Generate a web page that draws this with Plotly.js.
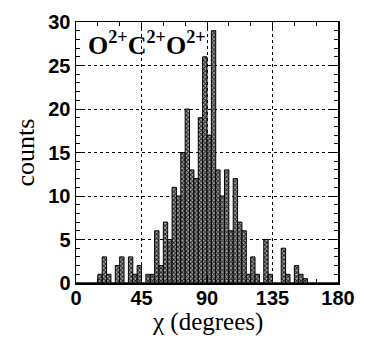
<!DOCTYPE html>
<html>
<head>
<meta charset="utf-8">
<script src="https://cdn.plot.ly/plotly-3.0.1.min.js"></script>
<style>
html,body{margin:0;padding:0;background:#fff;}
#chart{width:365px;height:343px;}
</style>
</head>
<body>
<div id="chart"></div>
<script>
// bin width in degrees
const binWidth = 3;
// counts per 3-degree bin, from 0 to 180 degrees (60 bins)
const counts = [
  0, 0, 0, 0, 0, 1, 3, 1, 0, 2,
  3, 0, 3, 1, 2, 0, 1, 1, 6, 2,
  7, 5, 11, 10, 15, 20, 13, 12, 19, 26,
  17, 29, 13, 10, 13, 6, 12, 7, 6, 1,
  3, 1, 0, 5, 1, 0, 0, 4, 1, 0,
  2, 1, 0.5, 0, 0, 0, 0, 0, 0, 0
];
const xTicks = [0, 45, 90, 135, 180];
const yTicks = [0, 5, 10, 15, 20, 25, 30];
const xTitle = 'χ (degrees)';
const yTitle = 'counts';
const label = '<b>O<sup>2+</sup>C<sup>2+</sup>O<sup>2+</sup></b>';
const binCenters = counts.map((_, i) => i * binWidth + binWidth / 2);

const trace = {
  type: 'bar',
  x: binCenters,
  y: counts,
  width: binWidth,
  marker: {
    color: '#a0a0a0',
    line: {color: '#000', width: 1},
    pattern: {shape: 'x', fgcolor: '#1a1a1a', bgcolor: '#a8a8a8', size: 3, solidity: 0.5}
  },
  hoverinfo: 'skip'
};

const tickFont = {family: 'Liberation Sans', size: 20, color: '#000', weight: 'bold'};
const serif = 'Liberation Serif, Times New Roman, Times, serif';

const layout = {
  width: 365, height: 343,
  margin: {l: 76, r: 27, t: 22, b: 60},
  paper_bgcolor: '#fff', plot_bgcolor: '#fff',
  showlegend: false,
  bargap: 0,
  xaxis: {
    range: [0, 180],
    tickvals: xTicks,
    ticktext: xTicks.map(String),
    ticks: 'inside', ticklen: 8, tickwidth: 1, tickcolor: '#000',
    ticklabelstandoff: -4,
    showline: true, linecolor: '#000', linewidth: 1.5, mirror: 'allticks',
    showgrid: true, gridcolor: '#000', gridwidth: 1, griddash: 'dot',
    zeroline: false,
    minor: {dtick: 15, tick0: 0, ticks: 'inside', ticklen: 4, tickcolor: '#000', showgrid: false},
    tickfont: tickFont
  },
  yaxis: {
    range: [0, 30],
    tickvals: yTicks,
    ticks: 'inside', ticklen: 8, tickwidth: 1, tickcolor: '#000',
    showline: true, linecolor: '#000', linewidth: 1.5, mirror: 'allticks',
    showgrid: true, gridcolor: '#000', gridwidth: 1, griddash: 'dot',
    zeroline: false,
    minor: {dtick: 1, tick0: 0, ticks: 'inside', ticklen: 4, tickcolor: '#000', showgrid: false},
    tickfont: tickFont,
    title: {text: yTitle, font: {family: serif, size: 26, color: '#000'}, standoff: 6}
  },
  annotations: [{
    text: label,
    xref: 'paper', yref: 'paper',
    x: 0.04, y: 0.99, xanchor: 'left', yanchor: 'top',
    showarrow: false,
    font: {family: serif, size: 26, color: '#000'}
  }, {
    text: xTitle,
    xref: 'paper', yref: 'paper',
    x: 0.5, y: -0.148, xanchor: 'center', yanchor: 'middle',
    showarrow: false,
    font: {family: serif, size: 25, color: '#000'}
  }]
};

Plotly.newPlot('chart', [trace], layout, {displayModeBar: false, staticPlot: true});
</script>
</body>
</html>
